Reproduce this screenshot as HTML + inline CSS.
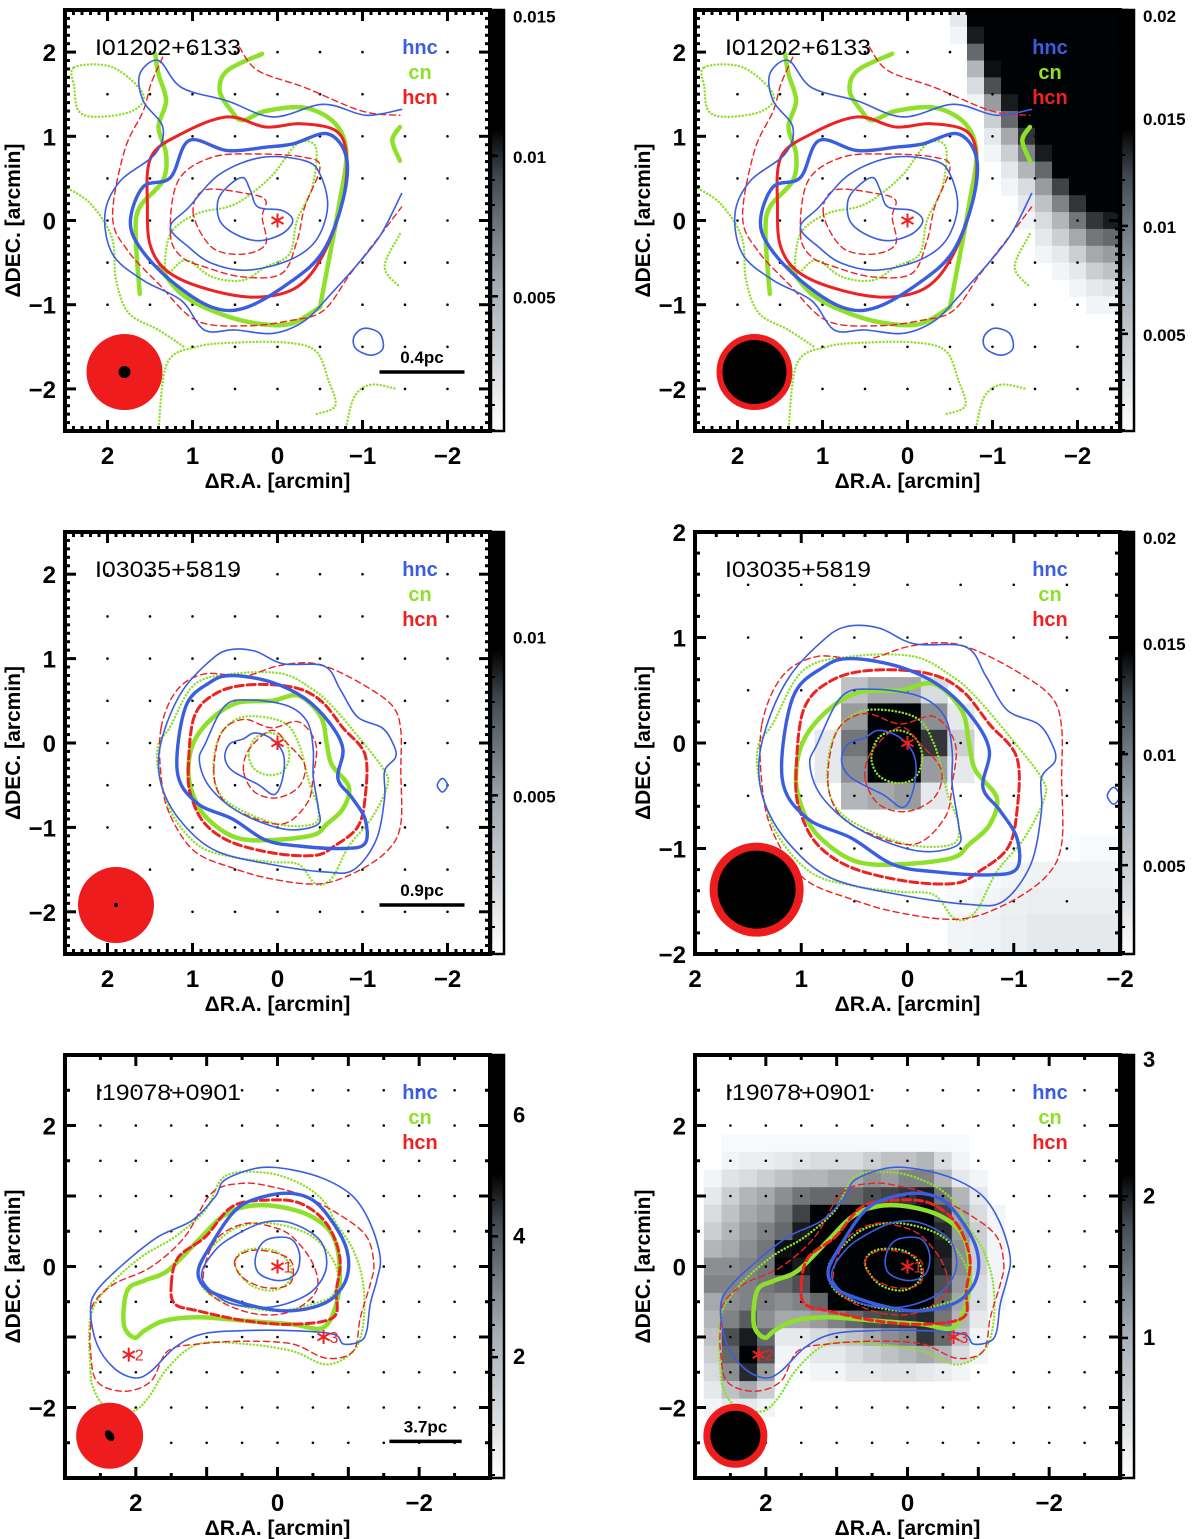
<!DOCTYPE html>
<html><head><meta charset="utf-8"><style>
html,body{margin:0;padding:0;background:#fff;}
svg{display:block;font-family:"Liberation Sans",sans-serif;}
</style></head><body>
<svg id="fig" width="1200" height="1539" viewBox="0 0 1200 1539" xmlns="http://www.w3.org/2000/svg">
<defs>
<linearGradient id="cbgrad" x1="0" y1="1" x2="0" y2="0">
<stop offset="0" stop-color="#ffffff"/><stop offset="0.35" stop-color="#a4acb2"/><stop offset="0.6" stop-color="#434b52"/><stop offset="0.72" stop-color="#000"/><stop offset="1" stop-color="#000"/>
</linearGradient>
</defs>
</svg>
<script>
// ===== Set 1 contours (I01202+6133) =====
const s1HncInRA=[0.59,0.41,0.32,0.23,-0.05,-0.18,-0.05,0.23,0.5,0.68,0.70];
const s1HncInDec=[0.40,0.51,0.36,0.16,0.12,0,-0.16,-0.24,-0.16,0,0.24];
const s1HncMidRA=[1.26,1.04,0.68,0.18,-0.32,-0.5,-0.59,-0.45,-0.14,0.36,0.77,1.04];
const s1HncMidDec=[-0.08,0.16,0.55,0.75,0.71,0.55,0.16,-0.24,-0.47,-0.59,-0.51,-0.32];
const s1HncThkRA=[1.73,1.58,1.26,1.04,0.59,0.14,-0.18,-0.59,-0.81,-0.77,-0.54,-0.18,0.36,0.77,1.26,1.62];
const s1HncThkDec=[0,0.4,0.51,0.95,0.83,0.87,0.91,1.03,0.75,0.24,-0.36,-0.71,-1.03,-1.03,-0.71,-0.32];
const s1HncOutRA=[-1.46,-1.04,-0.54,0.05,0.59,1.13,1.40,1.62,1.58,1.35,1.44,1.85,2.03,1.94,1.58,1.13,0.86,0.5,0.05,-0.32,-0.63,-0.95,-1.22,-1.46];
const s1HncOutDec=[1.32,1.25,1.38,1.23,1.42,1.58,1.90,1.74,1.42,1.11,0.79,0.47,0.08,-0.40,-0.71,-0.95,-1.30,-1.30,-1.34,-1.19,-0.87,-0.51,-0.16,0.32];
const s1HncBlobRA=[-0.90,-1.02,-1.20,-1.24,-1.10,-0.92];
const s1HncBlobDec=[-1.38,-1.28,-1.34,-1.52,-1.60,-1.52];
const s1HcnThkRA=[1.53,1.49,1.13,0.59,0.14,-0.27,-0.68,-0.81,-0.77,-0.54,-0.23,0.23,0.77,1.26,1.49];
const s1HcnThkDec=[0.16,0.75,1.03,1.23,1.11,1.15,1.07,0.79,0.24,-0.4,-0.79,-0.91,-0.83,-0.63,-0.32];
const s1HcnMidRA=[1.26,1.17,0.77,0.23,-0.32,-0.5,-0.32,-0.23,-0.05,0.41,0.86,1.13];
const s1HcnMidDec=[-0.16,0.47,0.75,0.79,0.75,0.63,0.16,-0.24,-0.63,-0.67,-0.55,-0.43];
const s1HcnInRA=[0.99,0.86,0.36,0.14,0.18,0.14,0.41,0.77];
const s1HcnInDec=[0.08,0.36,0.32,0.24,0.04,-0.28,-0.40,-0.32];
const s1HcnOutRA=[1.35,1.49,1.58,1.80,1.94,1.76,1.40,0.95,0.36,-0.14,-0.54,-0.86,-1.22,-1.46];
const s1HcnOutDec=[1.94,1.62,1.30,0.83,0.04,-0.36,-0.75,-1.19,-1.25,-1.19,-1.07,-0.63,-0.16,0.16];
const s1HcnTopRA=[0.45,0.23,-0.32,-0.99,-1.44];
const s1HcnTopDec=[2.06,1.78,1.58,1.30,1.25];
const s1CnThkARA=[1.62,1.67,1.62,1.35,1.31,1.40,1.31,1.40,1.44];
const s1CnThkADec=[-0.87,-0.16,0.16,0.47,0.79,1.11,1.42,1.74,1.98];
const s1CnThkBRA=[0.18,0.59,0.68,0.54,0.41,0.14,-0.32,-0.68,-0.81,-0.72,-0.59,-0.5];
const s1CnThkBDec=[1.98,1.78,1.54,1.30,1.19,1.30,1.34,1.15,0.79,0.16,-0.55,-1.03];
const s1CnThkCRA=[1.40,1.13,0.77,0.32,-0.14,-0.5];
const s1CnThkCDec=[-0.55,-0.87,-1.07,-1.21,-1.23,-1.03];
const s1CnThkDRA=[-1.44,-1.35,-1.44];
const s1CnThkDDec=[1.11,0.95,0.71];
const s1CnD1RA=[2.39,1.94,1.58,1.71,2.12,2.34,2.39];
const s1CnD1Dec=[1.82,1.82,1.50,1.30,1.23,1.30,1.58];
const s1CnD2RA=[1.31,1.26,0.95,0.59,0.36,0.05,-0.23,-0.45,-0.41,-0.23,-0.14,0.14,0.41,0.77,1.08];
const s1CnD2Dec=[-0.63,-0.16,0.08,0.16,0.28,0.55,0.91,0.87,0.40,0,-0.40,-0.55,-0.71,-0.67,-0.47];
const s1CnD3RA=[1.4,1.3,0.95,0.5,-0.1,-0.45,-0.6,-0.68,-0.45];
const s1CnD3Dec=[-2.5,-1.7,-1.5,-1.45,-1.45,-1.55,-1.9,-2.2,-2.3];
const s1CnD4RA=[-1.44,-1.26,-1.44];
const s1CnD4Dec=[-0.16,-0.55,-0.79];
const s1CnD5RA=[2.5,2.2,1.95,1.9,1.75,1.4,1.1];
const s1CnD5Dec=[0.4,0.2,-0.2,-0.7,-1.1,-1.3,-1.5];
const s1CnD6RA=[-0.8,-0.9,-1.1,-1.4];
const s1CnD6Dec=[-2.5,-2.1,-1.95,-2.0];

// ===== Set 2 contours (I03035+5819) =====
const s2HncInRA=[0.40,0.27,0.07,-0.07,-0.06,0.04,0.23,0.53,0.62,0.56];
const s2HncInDec=[0.05,0.12,0.05,-0.14,-0.42,-0.61,-0.49,-0.33,-0.17,-0.01];
const s2HncMidRA=[0.85,0.62,0.33,-0.12,-0.35,-0.42,-0.42,-0.48,-0.48,-0.19,0.14,0.53,0.82,0.92];
const s2HncMidDec=[-0.01,0.44,0.51,0.44,0.25,-0.07,-0.39,-0.77,-0.96,-1.03,-0.96,-0.77,-0.49,-0.20];
const s2HncThkRA=[1.18,1.08,0.79,0.53,0.07,-0.32,-0.61,-0.77,-0.71,-0.87,-1.03,-1.03,-0.77,-0.25,0.14,0.53,0.95];
const s2HncThkDec=[-0.33,0.43,0.72,0.80,0.72,0.53,0.24,-0.07,-0.42,-0.64,-0.90,-1.19,-1.25,-1.22,-1.15,-0.90,-0.71];
const s2HncOutRA=[1.40,1.31,1.11,0.82,0.59,0.27,-0.06,-0.55,-0.74,-0.94,-1.23,-1.36,-1.39,-1.26,-1.26,-1.16,-0.90,-0.58,0.07,0.72,1.11,1.34];
const s2HncOutDec=[-0.20,0.21,0.63,0.95,1.10,1.09,0.94,0.91,0.63,0.31,0.18,-0.01,-0.17,-0.33,-0.65,-1.15,-1.50,-1.53,-1.44,-1.28,-0.96,-0.58];
const s2HncBlobRA=[-1.94,-1.88,-1.94,-2.0];
const s2HncBlobDec=[-0.42,-0.5,-0.58,-0.5];
const s2HcnThkRA=[1.05,0.98,0.72,0.33,-0.19,-0.51,-0.77,-1.03,-1.03,-0.94,-0.67,-0.45,0.01,0.53,0.85,1.01];
const s2HcnThkDec=[-0.33,0.31,0.59,0.69,0.66,0.50,0.18,-0.14,-0.65,-1.0,-1.22,-1.33,-1.31,-1.18,-0.96,-0.65];
const s2HcnMidRA=[0.75,0.66,0.40,0.07,-0.25,-0.45,-0.42,-0.35,-0.06,0.40,0.66];
const s2HcnMidDec=[-0.33,0.12,0.28,0.18,0.25,-0.01,-0.39,-0.71,-0.96,-0.84,-0.65];
const s2HcnInRA=[0.40,0.33,0.07,-0.12,-0.32,-0.25,0.01,0.27];
const s2HcnInDec=[-0.33,-0.07,0.15,-0.01,-0.26,-0.52,-0.65,-0.58];
const s2HcnOutRA=[1.37,1.18,0.85,0.40,0.01,-0.35,-0.64,-1.06,-1.36,-1.45,-1.45,-1.45,-1.29,-0.90,-0.48,0.07,0.53,0.98,1.27,1.37];
const s2HcnOutDec=[0.18,0.63,0.82,0.79,0.91,0.95,0.88,0.66,0.43,0.15,-0.33,-0.96,-1.28,-1.54,-1.67,-1.61,-1.48,-1.28,-0.84,-0.39];
const s2CnThkRA=[1.05,0.98,0.75,0.46,0.07,-0.25,-0.51,-0.58,-0.64,-0.84,-0.77,-0.58,-0.42,0.07,0.49,0.82,0.98];
const s2CnThkDec=[-0.33,0.02,0.31,0.48,0.50,0.56,0.31,-0.01,-0.26,-0.52,-0.78,-0.96,-1.09,-1.15,-1.12,-0.90,-0.65];
const s2CnInRA=[0.34,0.27,0.1,-0.07,-0.14,-0.07,0.1,0.27];
const s2CnInDec=[-0.14,0.05,0.12,0.05,-0.14,-0.33,-0.38,-0.31];
const s2CnMidRA=[0.75,0.66,0.40,-0.06,-0.25,-0.38,-0.48,-0.42,0.01,0.53,0.72];
const s2CnMidDec=[-0.20,0.12,0.31,0.25,-0.01,-0.49,-0.77,-0.96,-0.96,-0.74,-0.52];
const s2CnOutRA=[1.40,1.27,0.98,0.53,-0.06,-0.42,-0.64,-0.97,-1.26,-1.29,-1.10,-0.84,-0.64,-0.45,-0.25,0.07,0.53,0.92,1.24,1.40];
const s2CnOutDec=[-0.01,0.18,0.69,0.82,0.82,0.63,0.44,0.05,-0.33,-0.52,-0.90,-1.22,-1.60,-1.67,-1.44,-1.41,-1.35,-1.22,-0.84,-0.33];

// ===== Set 3 contours (I19078+0901) =====
const s3HncInRA=[0.31,0.17,-0.17,-0.31,-0.26,-0.02,0.26];
const s3HncInDec=[0.13,0.37,0.40,0.18,-0.10,-0.2,-0.10];
const s3HncMidRA=[1.07,0.88,0.55,0.17,-0.21,-0.60,-0.69,-0.50,-0.12,0.26,0.74];
const s3HncMidDec=[-0.15,0.23,0.47,0.63,0.61,0.37,-0.01,-0.34,-0.53,-0.58,-0.49];
const s3HncThkRA=[1.12,0.93,0.64,0.36,-0.12,-0.5,-0.79,-0.98,-0.98,-0.79,-0.5,-0.12,0.26,0.74,1.02];
const s3HncThkDec=[-0.06,0.32,0.75,0.94,1.04,0.94,0.61,0.23,-0.15,-0.44,-0.58,-0.63,-0.58,-0.44,-0.30];
const s3HncOutRA=[2.64,2.55,2.17,1.69,1.21,0.88,0.74,0.26,-0.21,-0.69,-1.07,-1.31,-1.45,-1.40,-1.31,-1.26,-1.17,-0.93,-0.79,-0.21,0.5,1.07,1.45,1.79,2.02,2.31,2.55];
const s3HncOutDec=[-0.63,-0.34,0.04,0.42,0.65,0.99,1.23,1.40,1.37,1.23,0.99,0.61,0.13,-0.20,-0.53,-0.91,-1.06,-1.10,-0.96,-0.91,-0.91,-0.96,-1.15,-1.49,-1.58,-1.44,-1.10];
const s3HcnInRA=[0.6,0.36,-0.02,-0.21,-0.17,0.17,0.5];
const s3HcnInDec=[0.09,0.23,0.18,0.04,-0.25,-0.30,-0.15];
const s3HcnMidRA=[1.02,0.83,0.45,0.07,-0.21,-0.50,-0.55,-0.21,0.26,0.74,1.02];
const s3HcnMidDec=[0.04,0.42,0.61,0.56,0.42,0.04,-0.34,-0.63,-0.68,-0.53,-0.30];
const s3HcnThkRA=[1.5,1.4,1.02,0.64,0.17,-0.31,-0.69,-0.88,-0.83,-0.79,-0.21,0.45,1.12,1.45];
const s3HcnThkDec=[-0.25,0.13,0.42,0.85,0.94,0.9,0.61,0.13,-0.34,-0.72,-0.82,-0.77,-0.63,-0.53];
const s3HcnOutRA=[2.64,2.6,2.31,1.79,1.31,0.93,0.5,0.07,-0.4,-0.93,-1.26,-1.36,-1.31,-1.17,-1.07,-0.69,-0.21,0.45,1.12,1.55,1.79,2.17,2.55,2.64];
const s3HcnOutDec=[-0.87,-0.53,-0.25,-0.01,0.42,1.04,1.18,1.13,0.99,0.70,0.42,0.04,-0.25,-0.72,-1.20,-1.30,-1.10,-1.06,-1.10,-1.20,-1.63,-1.77,-1.63,-1.20];
const s3CnThkRA=[2.17,2.12,1.88,1.55,1.12,0.79,0.45,-0.02,-0.5,-0.79,-0.88,-0.83,-0.64,-0.21,0.45,1.12,1.6,1.88,2.02];
const s3CnThkDec=[-0.82,-0.34,-0.20,-0.06,0.37,0.70,0.85,0.85,0.70,0.42,-0.06,-0.53,-0.87,-0.82,-0.77,-0.72,-0.77,-0.91,-1.01];
const s3CnInRA=[0.6,0.45,0.07,-0.17,-0.17,0.07,0.4];
const s3CnInDec=[0.04,0.23,0.23,0.04,-0.2,-0.34,-0.25];
const s3CnMidRA=[1.12,0.88,0.55,0.07,-0.5,-0.83,-0.79,-0.5,0.02,0.64,1.02];
const s3CnMidDec=[-0.01,0.32,0.56,0.61,0.42,-0.01,-0.39,-0.53,-0.63,-0.53,-0.34];
const s3CnOutRA=[2.64,2.64,2.4,1.93,1.45,1.02,0.74,0.17,-0.31,-0.64,-0.83,-1.07,-1.21,-1.21,-1.07,-0.69,-0.21,0.45,1.12,1.55,1.83,2.07,2.45,2.6];
const s3CnOutDec=[-1.49,-0.72,-0.30,0.13,0.42,0.80,1.28,1.33,1.18,0.94,0.61,0.23,-0.25,-0.82,-1.20,-1.39,-1.20,-1.10,-1.10,-1.44,-1.87,-2.06,-1.96,-1.72];
const s3StarRA=[0,2.1,-0.65];
const s3StarDec=[0,-1.25,-1.0];
const s3StarLabels=["1","2","3"];

// ===== Grayscale images =====
const p2ImgRA=[-0.6,-0.8,-1.0,-1.2,-1.4,-1.6,-1.8,-2.0,-2.2,-2.4];
const p2ImgDec=[2.4,2.2,2.0,1.8,1.6,1.4,1.2,1.0,0.8,0.6,0.4,0.2,0.0,-0.2,-0.4,-0.6,-0.8,-1.0];
const p2Img=[
[0.1,1,1,1,1,1,1,1,1,1],
[0.05,0.9,1,1,1,1,1,1,1,1],
[0,0.6,1,1,1,1,1,1,1,1],
[0,0.3,0.95,1,1,1,1,1,1,1],
[0,0.15,0.7,1,1,1,1,1,1,1],
[0,0.05,0.4,0.9,1,1,1,1,1,1],
[0,0,0.2,0.6,1,1,1,1,1,1],
[0,0,0.1,0.35,0.8,1,1,1,1,1],
[0,0,0.05,0.2,0.5,0.9,1,1,1,1],
[0,0,0,0.1,0.3,0.6,1,1,1,1],
[0,0,0,0.05,0.15,0.4,0.75,1,1,1],
[0,0,0,0,0.1,0.25,0.5,0.8,1,1],
[0,0,0,0,0.05,0.15,0.3,0.55,0.8,0.9],
[0,0,0,0,0,0.1,0.2,0.35,0.55,0.6],
[0,0,0,0,0,0.05,0.1,0.2,0.35,0.4],
[0,0,0,0,0,0,0.05,0.1,0.2,0.25],
[0,0,0,0,0,0,0,0.05,0.1,0.12],
[0,0,0,0,0,0,0,0,0.05,0.05]];
const p4ImgRA=[0.75,0.5,0.25,0,-0.25,-0.5,-0.75,-1.0,-1.25,-1.5,-1.75,-2.0];
const p4ImgDec=[0.5,0.25,0,-0.25,-0.5,-0.75,-1.0,-1.25,-1.5,-1.75,-2.0];
const p4Img=[
[0,0.25,0.35,0.35,0.15,0,0,0,0,0,0,0],
[0,0.4,1,1,0.45,0.1,0,0,0,0,0,0],
[0.1,0.55,1,1,0.8,0.2,0,0,0,0,0,0],
[0.1,0.45,1,1,0.4,0.1,0,0,0,0,0,0],
[0,0.3,0.35,0.4,0.1,0,0,0,0,0,0,0],
[0,0,0,0,0,0,0,0,0,0,0,0],
[0,0,0,0,0,0,0,0,0,0.02,0.03,0.03],
[0,0,0,0,0,0,0.03,0.05,0.06,0.06,0.06,0.06],
[0,0,0,0,0,0.03,0.05,0.07,0.08,0.08,0.08,0.08],
[0,0,0,0,0,0.05,0.06,0.08,0.1,0.1,0.1,0.1],
[0,0,0,0,0,0.05,0.06,0.08,0.1,0.1,0.1,0.1]];
const p6ImgRA=[2.75,2.5,2.25,2.0,1.75,1.5,1.25,1.0,0.75,0.5,0.25,0,-0.25,-0.5,-0.75,-1.0,-1.25,-1.5,-1.75];
const p6ImgDec=[1.75,1.5,1.25,1.0,0.75,0.5,0.25,0,-0.25,-0.5,-0.75,-1.0,-1.25,-1.5,-1.75,-2.0];
const p6Img=[
[0,0.03,0.03,0.03,0.03,0.03,0.03,0.03,0.03,0.03,0.03,0.03,0.03,0.03,0.03,0,0,0,0],
[0,0.05,0.08,0.08,0.1,0.12,0.15,0.15,0.15,0.2,0.25,0.25,0.3,0.15,0.05,0,0,0,0],
[0.05,0.12,0.15,0.2,0.25,0.3,0.3,0.35,0.35,0.45,0.4,0.5,0.5,0.3,0.1,0.05,0,0,0],
[0.1,0.2,0.3,0.35,0.45,0.55,0.6,0.6,0.6,0.7,0.75,0.8,0.9,0.55,0.3,0.1,0,0,0],
[0.15,0.25,0.35,0.4,0.55,0.75,1,1,1,1,1,1,1,0.75,0.35,0.15,0.05,0,0],
[0.2,0.3,0.4,0.5,0.6,0.9,1,1,1,1,1,1,1,0.85,0.4,0.2,0.05,0,0],
[0.3,0.35,0.45,0.55,0.95,1,1,1,1,1,1,1,1,0.9,0.45,0.2,0.05,0,0],
[0.45,0.45,0.5,0.55,1,0.9,1,1,1,1,1,1,1,0.85,0.45,0.2,0.05,0,0],
[0.5,0.5,0.5,0.55,0.6,0.7,1,1,1,1,1,1,1,0.7,0.4,0.15,0.05,0,0],
[0.35,0.45,0.5,0.5,0.45,0.5,0.6,1,1,1,1,1,1,0.6,0.35,0.15,0.05,0,0],
[0.3,0.5,0.65,0.45,0.35,0.35,0.4,0.5,0.6,0.7,0.75,0.8,0.85,0.55,0.3,0.1,0,0,0],
[0.25,0.7,0.9,0.6,0.1,0.1,0.15,0.2,0.25,0.35,0.45,0.5,0.8,0.6,0.25,0.05,0,0,0],
[0.2,0.6,1,0.7,0.05,0.05,0.1,0.1,0.15,0.2,0.25,0.3,0.35,0.3,0.15,0.05,0,0,0],
[0.15,0.45,0.85,0.4,0.03,0.02,0.05,0.05,0.1,0.1,0.12,0.12,0.1,0.08,0.05,0,0,0,0],
[0.1,0.25,0.35,0.2,0.02,0,0,0,0,0,0,0,0,0,0,0,0,0,0],
[0.05,0.1,0.1,0.05,0,0,0,0,0,0,0,0,0,0,0,0,0,0,0]];

// ===== Colorbar ticks =====
const p1CbTicks=[0.015,0.01,0.005], p1CbLabels=["0.015","0.01","0.005"];
const p2CbTicks=[0.02,0.015,0.01,0.005], p2CbLabels=["0.02","0.015","0.01","0.005"];
const p3CbTicks=[0.01,0.005], p3CbLabels=["0.01","0.005"];
const p4CbTicks=[0.02,0.015,0.01,0.005], p4CbLabels=["0.02","0.015","0.01","0.005"];
const p5CbTicks=[6,4,2], p5CbLabels=["6","4","2"];
const p6CbTicks=[3,2,1], p6CbLabels=["3","2","1"];

const NS="http://www.w3.org/2000/svg";
const svg=document.getElementById('fig');
function el(tag,attrs,parent){const e=document.createElementNS(NS,tag);for(const k in attrs)e.setAttribute(k,attrs[k]);(parent||svg).appendChild(e);return e;}

const set1=[
{ra:s1CnD1RA,dec:s1CnD1Dec,k:'cn',c:true,n:'cn-contour-dotted-a'},
{ra:s1CnD2RA,dec:s1CnD2Dec,k:'cn',c:true,n:'cn-contour-dotted-b'},
{ra:s1CnD3RA,dec:s1CnD3Dec,k:'cn',c:false,n:'cn-contour-dotted-c'},
{ra:s1CnD4RA,dec:s1CnD4Dec,k:'cn',c:false,n:'cn-contour-dotted-d'},
{ra:s1CnD5RA,dec:s1CnD5Dec,k:'cn',c:false,n:'cn-contour-dotted-e'},
{ra:s1CnD6RA,dec:s1CnD6Dec,k:'cn',c:false,n:'cn-contour-dotted-f'},
{ra:s1CnThkARA,dec:s1CnThkADec,k:'cnT',c:false,n:'cn-contour-thick-a'},
{ra:s1CnThkBRA,dec:s1CnThkBDec,k:'cnT',c:false,n:'cn-contour-thick-b'},
{ra:s1CnThkCRA,dec:s1CnThkCDec,k:'cnT',c:false,n:'cn-contour-thick-c'},
{ra:s1CnThkDRA,dec:s1CnThkDDec,k:'cnT',c:false,n:'cn-contour-thick-d'},
{ra:s1HcnOutRA,dec:s1HcnOutDec,k:'hcn',c:false,n:'hcn-contour-outer'},
{ra:s1HcnTopRA,dec:s1HcnTopDec,k:'hcn',c:false,n:'hcn-contour-top'},
{ra:s1HcnMidRA,dec:s1HcnMidDec,k:'hcn',c:true,n:'hcn-contour-mid'},
{ra:s1HcnInRA,dec:s1HcnInDec,k:'hcn',c:true,n:'hcn-contour-inner'},
{ra:s1HcnThkRA,dec:s1HcnThkDec,k:'hcnS',c:true,n:'hcn-contour-thick'},
{ra:s1HncOutRA,dec:s1HncOutDec,k:'hnc',c:false,n:'hnc-contour-outer'},
{ra:s1HncBlobRA,dec:s1HncBlobDec,k:'hnc',c:true,n:'hnc-contour-blob'},
{ra:s1HncThkRA,dec:s1HncThkDec,k:'hncT',c:true,n:'hnc-contour-thick'},
{ra:s1HncMidRA,dec:s1HncMidDec,k:'hnc',c:true,n:'hnc-contour-mid'},
{ra:s1HncInRA,dec:s1HncInDec,k:'hnc',c:true,n:'hnc-contour-inner'}];
const set2=[
{ra:s2CnOutRA,dec:s2CnOutDec,k:'cn',c:true,n:'cn-contour-outer'},
{ra:s2CnMidRA,dec:s2CnMidDec,k:'cn',c:true,n:'cn-contour-mid'},
{ra:s2CnInRA,dec:s2CnInDec,k:'cn',c:true,n:'cn-contour-inner'},
{ra:s2CnThkRA,dec:s2CnThkDec,k:'cnT',c:true,n:'cn-contour-thick'},
{ra:s2HcnOutRA,dec:s2HcnOutDec,k:'hcn',c:true,n:'hcn-contour-outer'},
{ra:s2HcnMidRA,dec:s2HcnMidDec,k:'hcn',c:true,n:'hcn-contour-mid'},
{ra:s2HcnInRA,dec:s2HcnInDec,k:'hcn',c:true,n:'hcn-contour-inner'},
{ra:s2HcnThkRA,dec:s2HcnThkDec,k:'hcnT',c:true,n:'hcn-contour-thick'},
{ra:s2HncOutRA,dec:s2HncOutDec,k:'hnc',c:true,n:'hnc-contour-outer'},
{ra:s2HncThkRA,dec:s2HncThkDec,k:'hncT',c:true,n:'hnc-contour-thick'},
{ra:s2HncMidRA,dec:s2HncMidDec,k:'hnc',c:true,n:'hnc-contour-mid'},
{ra:s2HncInRA,dec:s2HncInDec,k:'hnc',c:true,n:'hnc-contour-inner'},
{ra:s2HncBlobRA,dec:s2HncBlobDec,k:'hncL',c:true,n:'hnc-contour-diamond'}];
const set3=[
{ra:s3CnOutRA,dec:s3CnOutDec,k:'cn',c:true,n:'cn-contour-outer'},
{ra:s3CnMidRA,dec:s3CnMidDec,k:'cn',c:true,n:'cn-contour-mid'},
{ra:s3CnInRA,dec:s3CnInDec,k:'cn',c:true,n:'cn-contour-inner'},
{ra:s3CnThkRA,dec:s3CnThkDec,k:'cnT',c:true,n:'cn-contour-thick'},
{ra:s3HcnOutRA,dec:s3HcnOutDec,k:'hcn',c:true,n:'hcn-contour-outer'},
{ra:s3HcnMidRA,dec:s3HcnMidDec,k:'hcn',c:true,n:'hcn-contour-mid'},
{ra:s3HcnInRA,dec:s3HcnInDec,k:'hcn',c:true,n:'hcn-contour-inner'},
{ra:s3HcnThkRA,dec:s3HcnThkDec,k:'hcnT',c:true,n:'hcn-contour-thick'},
{ra:s3HncOutRA,dec:s3HncOutDec,k:'hnc',c:true,n:'hnc-contour-outer'},
{ra:s3HncThkRA,dec:s3HncThkDec,k:'hncT',c:true,n:'hnc-contour-thick'},
{ra:s3HncMidRA,dec:s3HncMidDec,k:'hnc',c:true,n:'hnc-contour-mid'},
{ra:s3HncInRA,dec:s3HncInDec,k:'hnc',c:true,n:'hnc-contour-inner'}];

const STY={
hnc:{stroke:'#3b5ee0','stroke-width':1.6},
hncL:{stroke:'#3b5ee0','stroke-width':1.6},
hncT:{stroke:'#3b5ee0','stroke-width':3.4},
hcn:{stroke:'#ee2222','stroke-width':1.4,'stroke-dasharray':'6 4'},
hcnT:{stroke:'#ee2222','stroke-width':3,'stroke-dasharray':'8 4'},
hcnS:{stroke:'#ee2222','stroke-width':3},
cn:{stroke:'#8ee02a','stroke-width':2.4,'stroke-dasharray':'0.1 3.4'},
cnT:{stroke:'#8ee02a','stroke-width':4.5}};

const panels=[
{id:'p1',x0:65,y0:10,w:425,h:421,xr:2.5,yr:2.5,minor:0.1,set:set1,title:'I01202+6133',beam:'red',bra:1.8,bdec:-1.8,br:38,dot:6,
 scale:'0.4pc',sbRA:[-1.2,-2.2],sbDec:-1.8,cb:[0.0002,0.0152],cbT:p1CbTicks,cbL:p1CbLabels,stars:'one'},
{id:'p2',x0:695,y0:10,w:425,h:421,xr:2.5,yr:2.5,minor:0.1,set:set1,title:'I01202+6133',beam:'black',bra:1.8,bdec:-1.8,br:38,ring:6,
 img:[p2ImgRA,p2ImgDec,p2Img,0.2],cb:[0.0005,0.02],cbT:p2CbTicks,cbL:p2CbLabels,stars:'one'},
{id:'p3',x0:65,y0:532,w:425,h:422,xr:2.5,yr:2.5,minor:0.1,set:set2,title:'I03035+5819',beam:'red',bra:1.9,bdec:-1.92,br:38,dot:2,
 scale:'0.9pc',sbRA:[-1.2,-2.2],sbDec:-1.92,cb:[0,0.0133],cbT:p3CbTicks,cbL:p3CbLabels,stars:'one'},
{id:'p4',x0:695,y0:532,w:425,h:422,xr:2,yr:2,minor:0.2,set:set2,title:'I03035+5819',beam:'black',bra:1.42,bdec:-1.39,br:47,ring:8,
 img:[p4ImgRA,p4ImgDec,p4Img,0.25],cb:[0.001,0.02],cbT:p4CbTicks,cbL:p4CbLabels,stars:'one'},
{id:'p5',x0:65,y0:1055,w:425,h:423,xr:3,yr:3,minor:0.5,set:set3,title:'I19078+0901',beam:'red',bra:2.37,bdec:-2.4,br:33,dot:5,ell:true,
 scale:'3.7pc',sbRA:[-1.58,-2.6],sbDec:-2.48,cb:[0,7],cbT:p5CbTicks,cbL:p5CbLabels,stars:'three'},
{id:'p6',x0:695,y0:1055,w:425,h:423,xr:3,yr:3,minor:0.5,set:set3,title:'I19078+0901',beam:'black',bra:2.43,bdec:-2.4,br:32,ring:7,
 img:[p6ImgRA,p6ImgDec,p6Img,0.25],cb:[0.01,3],cbT:p6CbTicks,cbL:p6CbLabels,stars:'three'}];

function smoothPath(pts,closed){
 const n=pts.length;let d='M'+pts[0][0].toFixed(1)+','+pts[0][1].toFixed(1);
 const g=i=>closed?pts[(i+n)%n]:pts[Math.max(0,Math.min(n-1,i))];
 const m=closed?n:n-1;
 for(let i=0;i<m;i++){const p0=g(i-1),p1=g(i),p2=g(i+1),p3=g(i+2);
  const c1=[p1[0]+(p2[0]-p0[0])/6,p1[1]+(p2[1]-p0[1])/6],c2=[p2[0]-(p3[0]-p1[0])/6,p2[1]-(p3[1]-p1[1])/6];
  d+=' C'+c1[0].toFixed(1)+','+c1[1].toFixed(1)+' '+c2[0].toFixed(1)+','+c2[1].toFixed(1)+' '+p2[0].toFixed(1)+','+p2[1].toFixed(1);}
 return d+(closed?'Z':'');}
function fmt(v){return (v<0?'\u2212':'')+Math.abs(v);}
function asterisk(g,x,y,s){for(let a=0;a<3;a++){const t=a*Math.PI/3+Math.PI/2;
 const l=el('line',{x1:x-s*Math.cos(t),y1:y-s*Math.sin(t),x2:x+s*Math.cos(t),y2:y+s*Math.sin(t),stroke:'#ee2222','stroke-width':2},g);
 
 }}

panels.forEach((P,pi)=>{
 const sx=ra=>P.x0+(P.xr-ra)/(2*P.xr)*P.w;
 const sy=dec=>P.y0+(P.yr-dec)/(2*P.yr)*P.h;
 const g=el('g',{});
 
 
 const cp=el('clipPath',{id:'clip'+P.id},g);el('rect',{x:P.x0,y:P.y0,width:P.w,height:P.h},cp);
 const inner=el('g',{'clip-path':'url(#clip'+P.id+')'},g);
 
 
 if(P.img){const [ras,decs,vals,cs]=P.img;
  const ig=el('g',{},inner);
  
  
  decs.forEach((d,r)=>ras.forEach((a,c)=>{const v=vals[r][c];if(v<=0)return;
   const cc=Math.round(255*(1-Math.min(1,v)));
   const x1=sx(a+cs/2),x2=sx(a-cs/2),y1=sy(d+cs/2),y2=sy(d-cs/2);
   const rc=el('rect',{x:x1.toFixed(1),y:y1.toFixed(1),width:(x2-x1+0.6).toFixed(1),height:(y2-y1+0.6).toFixed(1),fill:`rgb(${cc},${Math.min(255,cc+3)},${Math.min(255,cc+6)})`},ig);
   
   }));}
 for(let a=-P.xr+0.5;a<=P.xr-0.49;a+=0.5)for(let d=-P.yr+0.5;d<=P.yr-0.49;d+=0.5){
  const dt=el('circle',{cx:sx(a),cy:sy(d),r:1.3,fill:'#000'},inner);
  
  }
 P.set.forEach(C=>{const pts=C.ra.map((a,i)=>[sx(a),sy(C.dec[i])]);
  const p=el('path',Object.assign({d:smoothPath(pts,C.c),fill:'none','stroke-linecap':'round','stroke-linejoin':'round'},STY[C.k]),inner);
  
  });
 if(P.stars==='one'){asterisk(inner,sx(0),sy(0),7);}
 else{s3StarRA.forEach((a,i)=>{asterisk(inner,sx(a),sy(s3StarDec[i]),7);
  const t=el('text',{x:sx(a)+6,y:sy(s3StarDec[i])+6,'font-size':16,fill:'#ee2222'},inner);t.textContent=s3StarLabels[i];
  
  });}
 const bx=sx(P.bra),by=sy(P.bdec);
 if(P.beam==='red'){
  const b=el('ellipse',{cx:bx,cy:by,rx:P.br+(P.ell?0.5:0),ry:P.br,fill:'#ee1c1c'},inner);
  
  
  const d=el('ellipse',{cx:bx,cy:by,rx:P.ell?4:P.dot,ry:P.ell?6:P.dot,fill:'#000',transform:P.ell?`rotate(-35 ${bx} ${by})`:''},inner);
  
  
 } else {
  const b=el('circle',{cx:bx,cy:by,r:P.br-P.ring/2,fill:'#000',stroke:'#ee1c1c','stroke-width':P.ring},inner);
  
  }
 if(P.scale){
  const l=el('line',{x1:sx(P.sbRA[0]),x2:sx(P.sbRA[1]),y1:sy(P.sbDec),y2:sy(P.sbDec),stroke:'#000','stroke-width':3.5},g);
  
  
  const t=el('text',{x:(sx(P.sbRA[0])+sx(P.sbRA[1]))/2,y:sy(P.sbDec)-9,'font-size':17,'font-weight':'bold','text-anchor':'middle'},g);
  t.textContent=P.scale;
  
  }
 const tt=el('text',{x:P.x0+30,y:P.y0+45,'font-size':22,textLength:146,lengthAdjust:'spacingAndGlyphs'},g);tt.textContent=P.title;
 
 
 [['hnc','#3b5ee0'],['cn','#8ee02a'],['hcn','#ee2222']].forEach((L,i)=>{
  const t=el('text',{x:P.x0+355,y:P.y0+44+i*25,'font-size':20,'font-weight':'bold','text-anchor':'middle',fill:L[1]},g);
  t.textContent=L[0];
  
  });
 const fr=el('rect',{x:P.x0,y:P.y0,width:P.w,height:P.h,fill:'none',stroke:'#000','stroke-width':4},g);
 
 
 const tg=el('g',{stroke:'#000','stroke-width':3},g);
 
 
 const nx=Math.round(2*P.xr/P.minor);
 for(let i=1;i<nx;i++){const v=-P.xr+i*P.minor;const maj=Math.abs(v-Math.round(v))<1e-6;const L=maj?11:5;
  const x=sx(v);el('line',{x1:x,x2:x,y1:P.y0+P.h,y2:P.y0+P.h-L},tg);el('line',{x1:x,x2:x,y1:P.y0,y2:P.y0+L},tg);}
 const ny=Math.round(2*P.yr/P.minor);
 for(let i=1;i<ny;i++){const v=-P.yr+i*P.minor;const maj=Math.abs(v-Math.round(v))<1e-6;const L=maj?11:5;
  const y=sy(v);el('line',{y1:y,y2:y,x1:P.x0,x2:P.x0+L},tg);el('line',{y1:y,y2:y,x1:P.x0+P.w,x2:P.x0+P.w-L},tg);}
 for(let v=-2;v<=2;v+=(P.xr===2.5?1:(P.xr===2?1:2))){
  const t=el('text',{x:sx(v),y:P.y0+P.h+33,'font-size':24,'font-weight':'bold','text-anchor':'middle'},g);t.textContent=fmt(v);
  
  
  const u=el('text',{x:P.x0-9,y:sy(v)+9,'font-size':24,'font-weight':'bold','text-anchor':'end'},g);u.textContent=fmt(v);
  
  }
 const xt=el('text',{x:P.x0+P.w/2,y:P.y0+P.h+57,'font-size':21,'font-weight':'bold','text-anchor':'middle'},g);
 xt.textContent='\u0394R.A. [arcmin]';
 
 
 const yx=P.x0-45,yy=P.y0+P.h/2;
 const yt=el('text',{x:yx,y:yy,'font-size':21,'font-weight':'bold','text-anchor':'middle',transform:`rotate(-90 ${yx} ${yy})`},g);
 yt.textContent='\u0394DEC. [arcmin]';
 
 
 const cx=P.x0+P.w+1,cw=13;
 const cby=v=>P.y0+P.h-(v-P.cb[0])/(P.cb[1]-P.cb[0])*P.h;
 const cb=el('rect',{x:cx,y:P.y0,width:cw,height:P.h,fill:'url(#cbgrad)',stroke:'#000','stroke-width':2.5},g);
 
 
 for(let y=P.y0+20;y<P.y0+P.h;y+=25){const tk=el('line',{x1:cx,x2:cx+4,y1:y,y2:y,stroke:'#000','stroke-width':2},g);
  
  }
 P.cbT.forEach((v,i)=>{const y=cby(v);
  const tk=el('line',{x1:cx,x2:cx+7,y1:y,y2:y,stroke:'#000','stroke-width':2.5},g);
  
  
  const t=el('text',{x:cx+cw+9,y:Math.max(y+7,P.y0+12),'font-size':P.cb[1]<1?17:22,'font-weight':'bold'},g);
  t.textContent=P.cbL[i];
  
  });
});
</script>
</body></html>
